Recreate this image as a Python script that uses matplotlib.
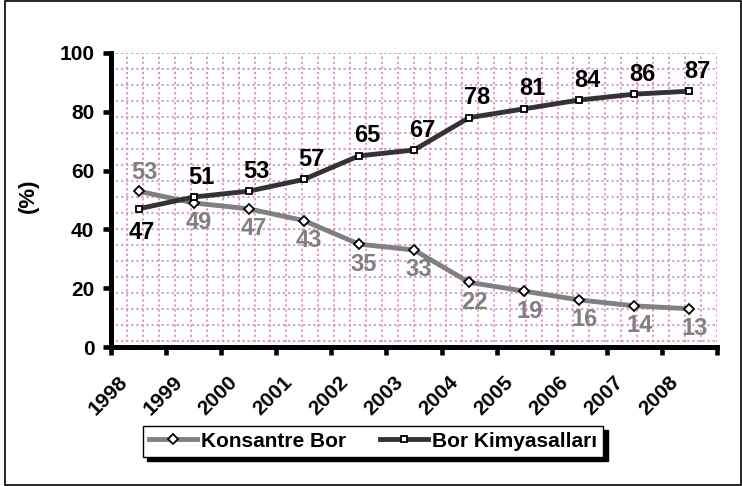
import numpy as np
import matplotlib.pyplot as plt
from matplotlib.patches import Rectangle
from matplotlib.transforms import ScaledTranslation

plt.rcParams['font.family'] = ['Liberation Sans', 'DejaVu Sans']
plt.rcParams['font.weight'] = 'bold'

years = ['1998', '1999', '2000', '2001', '2002', '2003',
         '2004', '2005', '2006', '2007', '2008']
konsantre = [53, 49, 47, 43, 35, 33, 22, 19, 16, 14, 13]
kimyasal = [47, 51, 53, 57, 65, 67, 78, 81, 84, 86, 87]
yticks = [0, 20, 40, 60, 80, 100]

DARK = '#333333'
GREY = '#808080'
PINK = '#dd8ccc'

fig = plt.figure(figsize=(7.42, 4.86), dpi=100)
ax = fig.add_axes([0.1496, 0.286, 0.8167, 0.605])

x = np.arange(len(years))
ax.set_xlim(-0.5, len(years) - 0.5)
ax.set_ylim(0, 100)

# dotted pink background pattern
for gx in np.linspace(-0.5, len(years) - 0.5, 39)[1:]:
    ax.axvline(gx, color=PINK, lw=1.3, ls=(0, (1.2, 1.6)), zorder=0)
for gy in np.arange(100, 1, -5.44):
    ax.axhline(gy, color=PINK, lw=1.3, ls=(0, (1.2, 1.6)), zorder=0)

ax.plot(x, konsantre, color=GREY, lw=3.5, marker='D', ms=4.8,
        mfc='white', mec='black', mew=1.3, label='Konsantre Bor', zorder=3)
ax.plot(x, kimyasal, color=DARK, lw=3.5, marker='s', ms=4.6,
        mfc='white', mec='black', mew=1.3, label='Bor Kimyasalları', zorder=4)

# data labels (offsets in pixels, +y is up)
for i, (k, b) in enumerate(zip(konsantre, kimyasal)):
    k_up = k > b
    ax.annotate(str(k), (i, k), xytext=(6, 19) if k_up else (5, -20),
                textcoords='offset pixels', ha='center', va='center',
                fontsize=17, color=GREY, zorder=5)
    ax.annotate(str(b), (i, b), xytext=(3, -24) if k_up else (8, 20),
                textcoords='offset pixels', ha='center', va='center',
                fontsize=17, color='black', zorder=5)

for s in ['top', 'right']:
    ax.spines[s].set_visible(False)
for s in ['left', 'bottom']:
    ax.spines[s].set_linewidth(3.6)

ax.set_yticks(yticks)
ax.set_yticklabels([str(v) for v in yticks], fontsize=15)
ax.tick_params(axis='y', length=6, width=3.3, pad=6)

ax.set_xticks(np.arange(-0.5, len(years)))
ax.set_xticklabels([])
ax.set_xticks(x, minor=True)
ax.set_xticklabels(years, minor=True, fontsize=15, rotation=45,
                   ha='right', va='center', rotation_mode='anchor')
ax.tick_params(axis='x', which='major', length=6, width=3.3)
ax.tick_params(axis='x', which='minor', length=0, pad=23)
shift = ScaledTranslation(-14 / 100, 0, fig.dpi_scale_trans)
for lab in ax.get_xticklabels(minor=True):
    lab.set_transform(lab.get_transform() + shift)

fig.text(0.038, 0.597, '(%)', rotation=90, fontsize=16,
         ha='center', va='center')

leg = ax.legend(loc='center', bbox_to_anchor=(0.503, 0.092),
                bbox_transform=fig.transFigure, ncol=2, fontsize=15,
                frameon=True, fancybox=False, handlelength=2.3,
                handletextpad=0.2, columnspacing=1.6, borderpad=0.3,
                shadow={'ox': 3, 'oy': -3, 'color': 'black', 'alpha': 1})
leg.get_frame().set_edgecolor('black')
leg.get_frame().set_linewidth(1.0)

fig.patches.append(Rectangle((5 / 742, 1 / 486), 736 / 742, 484 / 486,
                             transform=fig.transFigure, fill=False,
                             edgecolor='black', lw=1.2))

fig.savefig('out.png', dpi=100)
